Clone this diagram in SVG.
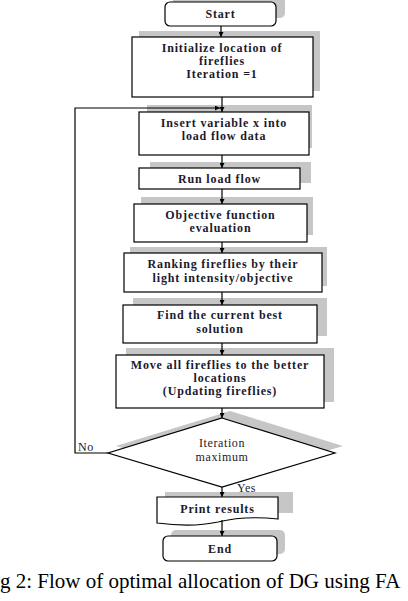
<svg xmlns="http://www.w3.org/2000/svg" width="408" height="601" viewBox="0 0 408 601">
<defs>
<style>
.box{fill:#fff;stroke:#000;stroke-width:1.2}
.sh{fill:#c6c6c6}
.t{font-family:"Liberation Serif","Times New Roman",serif;font-size:12px;font-weight:bold;letter-spacing:0.85px;fill:#1a1a2e;text-anchor:middle}
.n{font-weight:normal;letter-spacing:0.6px}
.lbl{font-family:"Liberation Serif","Times New Roman",serif;font-size:12px;letter-spacing:0.5px;fill:#1a1a2e}
.cap{font-family:"Liberation Serif","Times New Roman",serif;font-size:21px;fill:#000}
.ln{stroke:#000;stroke-width:1.2;fill:none}
</style>
<marker id="ah" viewBox="0 0 10 10" refX="10" refY="5" markerWidth="5" markerHeight="5" orient="auto" markerUnits="userSpaceOnUse">
<path d="M0,0 L10,5 L0,10 z" fill="#000"/>
</marker>
</defs>
<rect width="408" height="601" fill="#fff"/>

<g id="start">
<rect class="sh" x="173" y="-6" width="112" height="24" rx="5"/>
<rect class="box" x="165" y="2" width="111" height="24" rx="5"/>
<text class="t" x="220.5" y="17.5">Start</text>
</g>

<g id="init">
<rect class="sh" x="139" y="31" width="181" height="60"/>
<rect class="box" x="132" y="37" width="181" height="60"/>
<text class="t" x="222" y="52">Initialize location of</text>
<text class="t" x="222" y="65">fireflies</text>
<text class="t" x="222" y="78">Iteration =1</text>
</g>

<g id="insert">
<rect class="sh" x="147" y="105" width="165" height="43"/>
<rect class="box" x="139" y="112" width="170" height="43"/>
<text class="t" x="224" y="127">Insert variable x into</text>
<text class="t" x="224" y="140">load flow data</text>
</g>

<g id="run">
<rect class="sh" x="150" y="162" width="161" height="21"/>
<rect class="box" x="139" y="168" width="161" height="21"/>
<text class="t" x="219.5" y="182.5">Run load flow</text>
</g>

<g id="objective">
<rect class="sh" x="141" y="197" width="172" height="38"/>
<rect class="box" x="134" y="204" width="173" height="38"/>
<text class="t" x="220.5" y="219">Objective function</text>
<text class="t" x="220.5" y="232">evaluation</text>
</g>

<g id="ranking">
<rect class="sh" x="130" y="247" width="197" height="39"/>
<rect class="box" x="124" y="253" width="198" height="39"/>
<text class="t" x="223" y="268">Ranking fireflies by their</text>
<text class="t" x="223" y="281.5">light intensity/objective</text>
</g>

<g id="find">
<rect class="sh" x="133" y="298" width="194" height="38"/>
<rect class="box" x="123" y="305" width="194" height="38"/>
<text class="t" x="220" y="319">Find the current best</text>
<text class="t" x="220" y="333">solution</text>
</g>

<g id="move">
<rect class="sh" x="126" y="348" width="208" height="54"/>
<rect class="box" x="116" y="355" width="208" height="53"/>
<text class="t" x="220" y="369">Move all fireflies to the better</text>
<text class="t" x="220" y="382">locations</text>
<text class="t" x="220" y="395">(Updating fireflies)</text>
</g>

<g id="decision">
<polygon class="sh" points="230,411 343,446 230,480 116,446"/>
<polygon class="box" points="222,418 335,453 222,487 108,453" stroke-width="1"/>
<text class="t n" x="222" y="447">Iteration</text>
<text class="t n" x="222" y="461">maximum</text>
</g>

<g id="print">
<rect class="sh" x="165" y="492" width="128" height="21"/>
<path class="box" d="M157,497 H278 V519 C250,516 230,519 218,522 C200,526 180,526 157,523 Z" stroke-width="1"/>
<text class="t" x="217.5" y="513">Print results</text>
</g>

<g id="end">
<rect class="sh" x="171" y="530" width="114" height="24" rx="5"/>
<rect class="box" x="163" y="536" width="114" height="25" rx="5"/>
<text class="t" x="220" y="553">End</text>
</g>

<g id="connectors">
<line class="ln" x1="221" y1="26" x2="221" y2="37" marker-end="url(#ah)"/>
<line class="ln" x1="222" y1="97" x2="222" y2="112" marker-end="url(#ah)"/>
<line class="ln" x1="222" y1="155" x2="222" y2="168" marker-end="url(#ah)"/>
<line class="ln" x1="222" y1="189" x2="222" y2="204" marker-end="url(#ah)"/>
<line class="ln" x1="222" y1="242" x2="222" y2="253" marker-end="url(#ah)"/>
<line class="ln" x1="222" y1="292" x2="222" y2="305" marker-end="url(#ah)"/>
<line class="ln" x1="222" y1="343" x2="222" y2="355" marker-end="url(#ah)"/>
<line class="ln" x1="222" y1="408" x2="222" y2="418" marker-end="url(#ah)"/>
<line class="ln" x1="222" y1="487" x2="222" y2="497" marker-end="url(#ah)"/>
<line class="ln" x1="222" y1="520" x2="222" y2="536" marker-end="url(#ah)"/>
<polyline class="ln" points="108,453 75,453 75,108 220,108" stroke="#555" marker-end="url(#ah)"/>
<text class="lbl" x="78" y="451">No</text>
<text class="lbl" x="237" y="492">Yes</text>
</g>

<text class="cap" x="0" y="588">g 2: Flow of optimal allocation of DG using FA</text>
</svg>
